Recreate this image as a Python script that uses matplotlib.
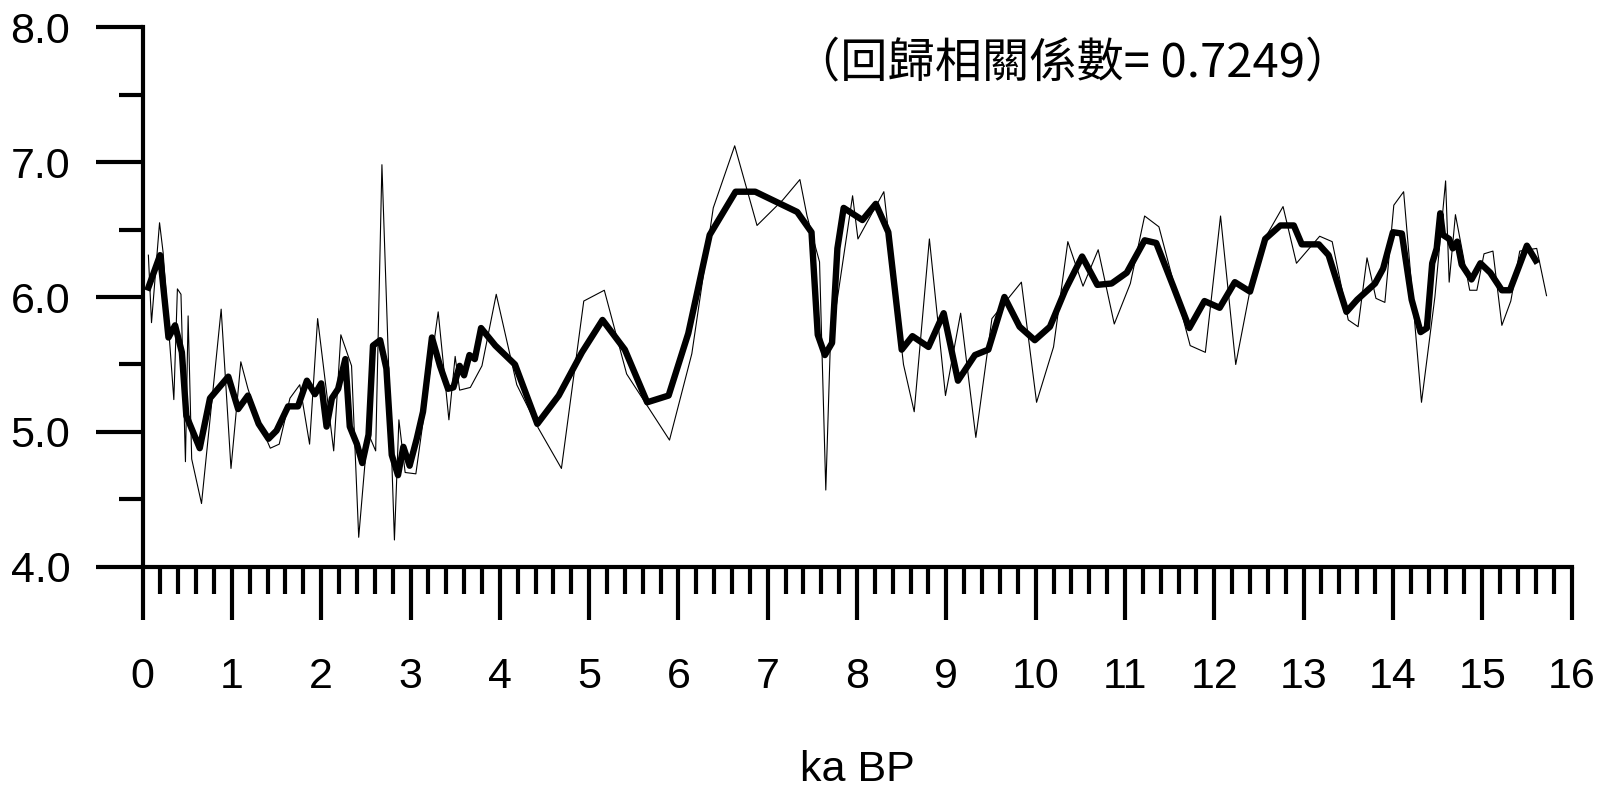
import numpy as np
import matplotlib
matplotlib.use("Agg")
from matplotlib import pyplot as plt
from matplotlib.ticker import MultipleLocator, FormatStrFormatter

# raw record (thin line)
raw_ka = [0.065, 0.10, 0.19, 0.23, 0.35, 0.39, 0.43, 0.48, 0.51, 0.55,
          0.66, 0.88, 0.99, 1.10, 1.18, 1.30, 1.43, 1.53, 1.65, 1.76,
          1.87, 1.96, 2.14, 2.22, 2.34, 2.42, 2.52, 2.61, 2.68, 2.82,
          2.87, 2.94, 3.06, 3.31, 3.43, 3.50, 3.55, 3.67, 3.80, 3.96,
          4.19, 4.43, 4.69, 4.94, 5.17, 5.42, 5.90, 6.15, 6.39, 6.63,
          6.88, 7.17, 7.36, 7.44, 7.58, 7.65, 7.70, 7.95, 8.01, 8.30,
          8.52, 8.64, 8.81, 8.99, 9.16, 9.33, 9.51, 9.84, 10.01, 10.20,
          10.36, 10.53, 10.70, 10.88, 11.06, 11.22, 11.38, 11.73, 11.90, 12.07,
          12.24, 12.40, 12.58, 12.77, 12.92, 13.18, 13.32, 13.50, 13.61, 13.71,
          13.81, 13.91, 14.01, 14.12, 14.32, 14.47, 14.59, 14.63, 14.70, 14.86,
          14.94, 15.02, 15.12, 15.22, 15.32, 15.42, 15.61, 15.72]
raw_val = [6.31, 5.81, 6.55, 6.33, 5.24, 6.06, 6.02, 4.78, 5.86, 4.80,
           4.47, 5.91, 4.73, 5.52, 5.32, 5.08, 4.88, 4.91, 5.25, 5.35,
           4.91, 5.84, 4.86, 5.72, 5.49, 4.22, 5.00, 4.86, 6.98, 4.20,
           5.09, 4.70, 4.69, 5.89, 5.09, 5.56, 5.31, 5.33, 5.49, 6.02,
           5.35, 5.03, 4.73, 5.97, 6.05, 5.43, 4.94, 5.58, 6.66, 7.12,
           6.53, 6.72, 6.87, 6.60, 6.26, 4.57, 5.63, 6.75, 6.43, 6.78,
           5.50, 5.15, 6.43, 5.27, 5.88, 4.96, 5.84, 6.11, 5.22, 5.63,
           6.41, 6.08, 6.35, 5.80, 6.10, 6.60, 6.52, 5.64, 5.59, 6.60,
           5.50, 6.05, 6.45, 6.67, 6.25, 6.45, 6.41, 5.83, 5.78, 6.29,
           5.99, 5.96, 6.68, 6.78, 5.22, 6.00, 6.86, 6.11, 6.61, 6.05,
           6.05, 6.32, 6.34, 5.79, 5.97, 6.34, 6.36, 6.01]

# regression estimate (thick line)
fit_ka = [0.065, 0.196, 0.29, 0.364, 0.44, 0.49, 0.64, 0.755, 0.96, 1.07,
          1.18, 1.30, 1.41, 1.50, 1.63, 1.74, 1.84, 1.93, 2.00, 2.06,
          2.12, 2.19, 2.27, 2.32, 2.40, 2.46, 2.53, 2.58, 2.66, 2.73,
          2.79, 2.86, 2.92, 2.99, 3.07, 3.14, 3.24, 3.33, 3.42, 3.48,
          3.55, 3.60, 3.66, 3.72, 3.79, 3.95, 4.17, 4.42, 4.66, 4.92,
          5.15, 5.40, 5.65, 5.89, 6.11, 6.35, 6.64, 6.86, 7.33, 7.49,
          7.56, 7.64, 7.72, 7.78, 7.85, 8.06, 8.21, 8.35, 8.50, 8.62,
          8.80, 8.97, 9.13, 9.32, 9.47, 9.65, 9.82, 9.99, 10.16, 10.33,
          10.52, 10.69, 10.85, 11.02, 11.22, 11.35, 11.54, 11.72, 11.89, 12.06,
          12.23, 12.40, 12.57, 12.74, 12.89, 12.98, 13.17, 13.28, 13.48, 13.60,
          13.80, 13.89, 14.00, 14.10, 14.21, 14.31, 14.38, 14.44, 14.49, 14.53,
          14.56, 14.63, 14.67, 14.72, 14.77, 14.88, 14.98, 15.09, 15.22, 15.31,
          15.50, 15.60]
fit_val = [6.07, 6.31, 5.70, 5.79, 5.59, 5.12, 4.88, 5.25, 5.41, 5.17,
           5.27, 5.06, 4.95, 5.01, 5.19, 5.19, 5.38, 5.28, 5.36, 5.04,
           5.25, 5.32, 5.54, 5.04, 4.91, 4.77, 4.98, 5.64, 5.68, 5.47,
           4.83, 4.68, 4.89, 4.75, 4.95, 5.15, 5.70, 5.49, 5.32, 5.33,
           5.49, 5.42, 5.57, 5.54, 5.77, 5.64, 5.50, 5.06, 5.27, 5.59,
           5.83, 5.61, 5.22, 5.27, 5.73, 6.46, 6.78, 6.78, 6.63, 6.48,
           5.72, 5.57, 5.66, 6.36, 6.66, 6.57, 6.69, 6.48, 5.61, 5.71,
           5.63, 5.88, 5.38, 5.57, 5.61, 6.00, 5.78, 5.68, 5.78, 6.05,
           6.30, 6.09, 6.10, 6.18, 6.42, 6.40, 6.08, 5.77, 5.97, 5.92,
           6.11, 6.04, 6.43, 6.53, 6.53, 6.39, 6.39, 6.31, 5.89, 5.98,
           6.10, 6.21, 6.48, 6.47, 5.98, 5.74, 5.77, 6.25, 6.36, 6.62,
           6.46, 6.43, 6.36, 6.41, 6.24, 6.13, 6.25, 6.18, 6.05, 6.05,
           6.38, 6.27]

corr_text = "（回歸相關係數= 0.7249）"

plt.rcParams['font.family'] = ['Liberation Sans', 'DejaVu Sans']

fig = plt.figure(figsize=(16.11, 7.90), dpi=100)
ax = fig.add_axes([0.0885, 0.2823, 0.887, 0.6835])

ax.plot(raw_ka, raw_val, color='black', linewidth=0.8)
ax.plot(fit_ka, fit_val, color='black', linewidth=4.6, solid_joinstyle='round')

ax.set_xlim(0, 16)
ax.set_ylim(4, 8)

for side in ['top', 'right']:
    ax.spines[side].set_visible(False)
for side in ['left', 'bottom']:
    ax.spines[side].set_linewidth(3.0)

ax.xaxis.set_major_locator(MultipleLocator(1))
ax.xaxis.set_minor_locator(MultipleLocator(0.2))
ax.yaxis.set_major_locator(MultipleLocator(1))
ax.yaxis.set_minor_locator(MultipleLocator(0.5))
ax.yaxis.set_major_formatter(FormatStrFormatter('%.1f'))

ax.tick_params(axis='x', which='major', direction='out', length=38, width=3.0,
               pad=27, labelsize=31)
ax.tick_params(axis='x', which='minor', direction='out', length=19.5, width=3.0)
ax.tick_params(axis='y', which='major', direction='out', length=34, width=3.0,
               pad=18, labelsize=31)
ax.tick_params(axis='y', which='minor', direction='out', length=17, width=3.0)

ax.set_xlabel("ka BP", fontsize=31, labelpad=38)

ax.text(10.41, 7.73, corr_text, fontsize=34, ha='center', va='center',
        family=['Noto Sans CJK TC', 'DejaVu Sans'])

fig.savefig("out.png", dpi=100)
